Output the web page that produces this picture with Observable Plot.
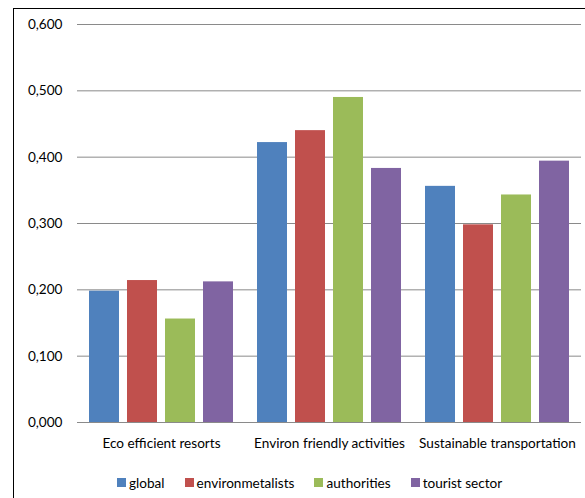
<!DOCTYPE html>
<html>
<head>
<meta charset="utf-8">
<script src="https://cdn.jsdelivr.net/npm/d3@7"></script>
<script src="https://cdn.jsdelivr.net/npm/@observablehq/plot@0.6"></script>
<style>
  html, body { margin: 0; padding: 0; background: #fff; }
  #wrap { position: relative; width: 585px; height: 498px; overflow: hidden; font-family: Lato, "Open Sans", sans-serif; }
  #frame { position: absolute; left: 13px; top: 8px; width: 700px; height: 600px; border-left: 1px solid #000; border-top: 1px solid #000; }
  #chart { position: absolute; left: 0; top: 0; }
  #legend { position: absolute; left: 117px; top: 466px; }
  .lg-swatch { margin-right: 20px !important; font-size: 13.6px; color: #000; }
  .lg-swatch > svg { margin-right: 3px !important; }
</style>
</head>
<body>
<div id="wrap">
  <div id="frame"></div>
  <div id="chart"></div>
  <div id="legend"></div>
</div>
<script>
const categories = ["Eco efficient resorts", "Environ friendly activities", "Sustainable transportation"];
const series = ["global", "environmetalists", "authorities", "tourist sector"];
const colors = ["#4F81BD", "#C0504D", "#9BBB59", "#8064A2"];
const globalValues = [0.198, 0.422, 0.356];
const environmetalistsValues = [0.214, 0.440, 0.298];
const authoritiesValues = [0.156, 0.490, 0.343];
const touristSectorValues = [0.212, 0.383, 0.394];
const yTicks = [0, 0.1, 0.2, 0.3, 0.4, 0.5, 0.6];

const seriesValues = [globalValues, environmetalistsValues, authoritiesValues, touristSectorValues];
const data = categories.flatMap((c, i) =>
  series.map((s, j) => ({category: c, series: s, value: seriesValues[j][i]}))
);

const fmt = d => d.toFixed(3).replace(".", ",");

const chart = Plot.plot({
  width: 585,
  height: 468,
  marginLeft: 76,
  marginRight: 3,
  marginTop: 24,
  marginBottom: 46,
  style: {fontFamily: "Lato, 'Open Sans', sans-serif", fontSize: "13.6px", color: "#000", background: "transparent"},
  fx: {domain: categories, padding: 0, label: null, axis: "bottom", tickSize: 0, tickPadding: 16},
  x: {domain: series, axis: null, paddingInner: 0.2, paddingOuter: 0.28},
  y: {domain: [0, 0.6], ticks: yTicks, tickFormat: fmt, label: null, tickSize: 0, tickPadding: 15},
  color: {domain: series, range: colors},
  marks: [
    Plot.ruleY(yTicks, {stroke: "#8a8a8a", strokeWidth: 1}),
    Plot.barY(data, {fx: "category", x: "series", y: "value", fill: "series"})
  ]
});
document.getElementById("chart").appendChild(chart);

const legend = Plot.legend({
  color: {domain: series, range: colors},
  legend: "swatches",
  className: "lg",
  swatchSize: 9,
  style: {fontFamily: "Lato, 'Open Sans', sans-serif", fontSize: "13.6px"}
});
document.getElementById("legend").appendChild(legend);
</script>
</body>
</html>
